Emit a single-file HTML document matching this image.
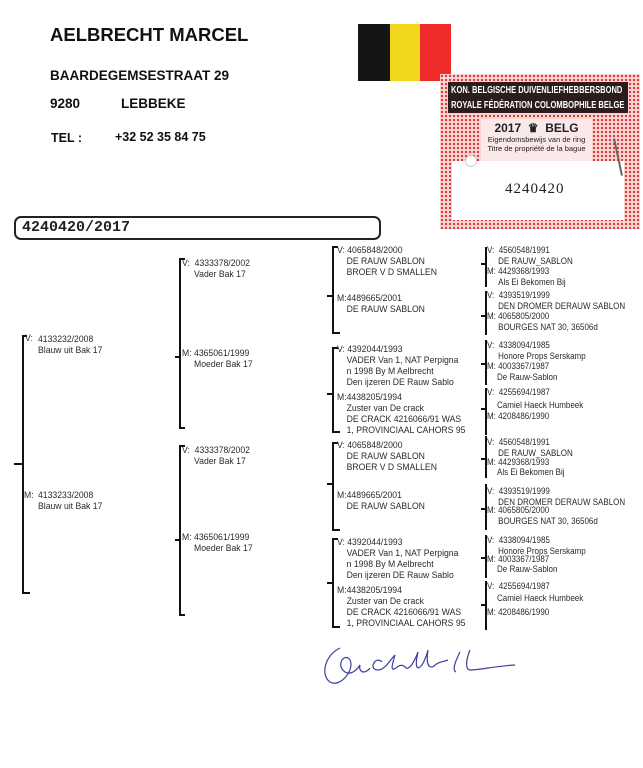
<!DOCTYPE html>
<html><head><meta charset="utf-8"><style>
body{margin:0;background:#fff;width:643px;height:768px;position:relative;overflow:hidden;font-family:"Liberation Sans",Arial,sans-serif;color:#222}
.a{position:absolute;white-space:nowrap}
.t{position:absolute;white-space:nowrap;font-size:9.3px;line-height:11px;color:#2a2a2a;transform:scaleX(.93);transform-origin:left}
.c4 .t{transform:scaleX(.86)}
.v{position:absolute;width:0;border-left:2px solid #111}
.h{position:absolute;height:0;border-top:2px solid #111}
.b{font-weight:bold;color:#111}
</style></head><body>
<div class="a b" style="left:50px;top:24px;font-size:18.5px">AELBRECHT MARCEL</div>
<div class="a b" style="left:50px;top:68px;font-size:13.5px">BAARDEGEMSESTRAAT 29</div>
<div class="a b" style="left:50px;top:96px;font-size:13.5px">9280</div>
<div class="a b" style="left:121px;top:96px;font-size:13.5px">LEBBEKE</div>
<div class="a b" style="left:51px;top:131px;font-size:12.5px">TEL :</div>
<div class="a b" style="left:115px;top:130px;font-size:12.5px;font-weight:bold">+32 52 35 84 75</div>
<div class="a" style="left:358px;top:24px;width:32px;height:57px;background:#151515"></div>
<div class="a" style="left:390px;top:24px;width:30px;height:57px;background:#f2d81c"></div>
<div class="a" style="left:420px;top:24px;width:31px;height:57px;background:#ef2b2b"></div>
<!-- certificate -->
<div class="a" style="left:440px;top:74px;width:200px;height:155px;background-color:#f7d4d4;background-image:radial-gradient(circle,#e23a3a 1.1px,transparent 1.3px);background-size:4px 4px"></div>
<div class="a" style="left:448px;top:82px;width:180px;height:31px;background:#2b1d1d;overflow:hidden"></div>
<div class="a" style="left:451px;top:83px;color:#fff;font-weight:bold;font-size:10.5px;line-height:15px;transform:scaleX(.72);transform-origin:left">KON. BELGISCHE DUIVENLIEFHEBBERSBOND<br>ROYALE FÉDÉRATION COLOMBOPHILE BELGE</div>
<div class="a" style="left:481px;top:119px;width:111px;height:42px;background:#fbe9ea;text-align:center;color:#222">
<div style="font-weight:bold;font-size:12px;margin-top:2px">2017 &nbsp;♛&nbsp; BELG</div>
<div style="font-size:7.5px;line-height:9px">Eigendomsbewijs van de ring<br>Titre de propriété de la bague</div></div>
<div class="a" style="left:452px;top:161px;width:172px;height:59px;background:#fff"></div>
<div class="a" style="left:465px;top:155px;width:10px;height:10px;border-radius:50%;background:#fff;border:1px solid #ccc"></div>
<div class="a" style="left:505px;top:181px;font-family:'Liberation Serif',serif;font-size:15px;letter-spacing:1px;color:#222">4240420</div>
<div class="a" style="left:617px;top:138px;width:2px;height:38px;background:#666;transform:rotate(-12deg)"></div>
<!-- ring bar -->
<div class="a" style="left:14px;top:216px;width:363px;height:20px;border:2px solid #222;border-radius:7px"></div>
<div class="a" style="left:22px;top:219px;font-family:'Liberation Mono',monospace;font-weight:bold;font-size:15px;color:#222">4240420/2017</div>
<!-- col1 -->
<div class="v" style="left:22px;top:335px;height:258px"></div>
<div class="h" style="left:22px;top:335px;width:5px"></div><div class="h" style="left:22px;top:592px;width:8px"></div>
<div class="h" style="left:14px;top:463px;width:8px"></div>
<div class="t" style="left:25px;top:333px">V:</div><div class="t" style="left:38px;top:334px">4133232/2008<br>Blauw uit Bak 17</div>
<div class="t" style="left:24px;top:490px">M:</div><div class="t" style="left:38px;top:490px">4133233/2008<br>Blauw uit Bak 17</div>
<!-- col2 -->
<div class="v" style="left:179px;top:258px;height:170px"></div>
<div class="h" style="left:179px;top:258px;width:6px"></div><div class="h" style="left:179px;top:427px;width:6px"></div>
<div class="h" style="left:175px;top:356px;width:5px"></div>
<div class="t" style="left:182px;top:258px">V:&nbsp;&nbsp;4333378/2002<br>&nbsp;&nbsp;&nbsp;&nbsp;&nbsp;Vader Bak 17</div>
<div class="t" style="left:182px;top:348px">M: 4365061/1999<br>&nbsp;&nbsp;&nbsp;&nbsp;&nbsp;Moeder Bak 17</div>
<div class="v" style="left:179px;top:445px;height:170px"></div>
<div class="h" style="left:179px;top:445px;width:6px"></div><div class="h" style="left:179px;top:614px;width:6px"></div>
<div class="h" style="left:175px;top:539px;width:5px"></div>
<div class="t" style="left:182px;top:445px">V:&nbsp;&nbsp;4333378/2002<br>&nbsp;&nbsp;&nbsp;&nbsp;&nbsp;Vader Bak 17</div>
<div class="t" style="left:182px;top:532px">M: 4365061/1999<br>&nbsp;&nbsp;&nbsp;&nbsp;&nbsp;Moeder Bak 17</div>
<!-- col3 -->
<div class="v" style="left:332px;top:246px;height:87px"></div><div class="h" style="left:332px;top:246px;width:6px"></div><div class="h" style="left:332px;top:332px;width:8px"></div><div class="h" style="left:327px;top:295px;width:5px"></div>
<div class="v" style="left:332px;top:347px;height:85px"></div><div class="h" style="left:332px;top:347px;width:6px"></div><div class="h" style="left:332px;top:431px;width:8px"></div><div class="h" style="left:327px;top:393px;width:5px"></div>
<div class="v" style="left:332px;top:442px;height:88px"></div><div class="h" style="left:332px;top:442px;width:6px"></div><div class="h" style="left:332px;top:529px;width:8px"></div><div class="h" style="left:327px;top:483px;width:5px"></div>
<div class="v" style="left:332px;top:538px;height:89px"></div><div class="h" style="left:332px;top:538px;width:6px"></div><div class="h" style="left:332px;top:626px;width:8px"></div><div class="h" style="left:327px;top:582px;width:5px"></div>
<div class="t" style="left:337px;top:245px">V: 4065848/2000<br>&nbsp;&nbsp;&nbsp;&nbsp;DE RAUW SABLON<br>&nbsp;&nbsp;&nbsp;&nbsp;BROER V D SMALLEN</div>
<div class="t" style="left:337px;top:293px">M:4489665/2001<br>&nbsp;&nbsp;&nbsp;&nbsp;DE RAUW SABLON</div>
<div class="t" style="left:337px;top:344px">V: 4392044/1993<br>&nbsp;&nbsp;&nbsp;&nbsp;VADER Van 1, NAT Perpigna<br>&nbsp;&nbsp;&nbsp;&nbsp;n 1998 By M Aelbrecht<br>&nbsp;&nbsp;&nbsp;&nbsp;Den ijzeren DE Rauw Sablo</div>
<div class="t" style="left:337px;top:392px">M:4438205/1994<br>&nbsp;&nbsp;&nbsp;&nbsp;Zuster van De crack<br>&nbsp;&nbsp;&nbsp;&nbsp;DE CRACK 4216066/91 WAS<br>&nbsp;&nbsp;&nbsp;&nbsp;1, PROVINCIAAL CAHORS 95</div>
<div class="t" style="left:337px;top:440px">V: 4065848/2000<br>&nbsp;&nbsp;&nbsp;&nbsp;DE RAUW SABLON<br>&nbsp;&nbsp;&nbsp;&nbsp;BROER V D SMALLEN</div>
<div class="t" style="left:337px;top:490px">M:4489665/2001<br>&nbsp;&nbsp;&nbsp;&nbsp;DE RAUW SABLON</div>
<div class="t" style="left:337px;top:537px">V: 4392044/1993<br>&nbsp;&nbsp;&nbsp;&nbsp;VADER Van 1, NAT Perpigna<br>&nbsp;&nbsp;&nbsp;&nbsp;n 1998 By M Aelbrecht<br>&nbsp;&nbsp;&nbsp;&nbsp;Den ijzeren DE Rauw Sablo</div>
<div class="t" style="left:337px;top:585px">M:4438205/1994<br>&nbsp;&nbsp;&nbsp;&nbsp;Zuster van De crack<br>&nbsp;&nbsp;&nbsp;&nbsp;DE CRACK 4216066/91 WAS<br>&nbsp;&nbsp;&nbsp;&nbsp;1, PROVINCIAAL CAHORS 95</div>
<!-- col4 -->
<div class="c4">
<div class="v" style="left:485px;top:247px;height:40px"></div><div class="h" style="left:481px;top:263px;width:5px"></div>
<div class="v" style="left:485px;top:291px;height:44px"></div><div class="h" style="left:481px;top:315px;width:5px"></div>
<div class="v" style="left:485px;top:340px;height:45px"></div><div class="h" style="left:481px;top:363px;width:5px"></div>
<div class="v" style="left:485px;top:388px;height:47px"></div><div class="h" style="left:481px;top:408px;width:5px"></div>
<div class="v" style="left:485px;top:436px;height:42px"></div><div class="h" style="left:481px;top:458px;width:5px"></div>
<div class="v" style="left:485px;top:484px;height:46px"></div><div class="h" style="left:481px;top:508px;width:5px"></div>
<div class="v" style="left:485px;top:535px;height:43px"></div><div class="h" style="left:481px;top:557px;width:5px"></div>
<div class="v" style="left:485px;top:581px;height:49px"></div><div class="h" style="left:481px;top:604px;width:5px"></div>
<div class="t" style="left:487px;top:245px">V:&nbsp;&nbsp;4560548/1991<br>&nbsp;&nbsp;&nbsp;&nbsp;&nbsp;DE RAUW_SABLON</div>
<div class="t" style="left:487px;top:266px">M:&nbsp;4429368/1993<br>&nbsp;&nbsp;&nbsp;&nbsp;&nbsp;Als Ei Bekomen Bij</div>
<div class="t" style="left:487px;top:290px">V:&nbsp;&nbsp;4393519/1999<br>&nbsp;&nbsp;&nbsp;&nbsp;&nbsp;DEN DROMER DERAUW SABLON</div>
<div class="t" style="left:487px;top:311px">M:&nbsp;4065805/2000<br>&nbsp;&nbsp;&nbsp;&nbsp;&nbsp;BOURGES NAT 30, 36506d</div>
<div class="t" style="left:487px;top:340px">V:&nbsp;&nbsp;4338094/1985<br>&nbsp;&nbsp;&nbsp;&nbsp;&nbsp;Honore Props Serskamp</div>
<div class="t" style="left:487px;top:361px">M:&nbsp;4003367/1987</div>
<div class="t" style="left:497px;top:372px">De Rauw-Sablon</div>
<div class="t" style="left:487px;top:387px">V:&nbsp;&nbsp;4255694/1987</div>
<div class="t" style="left:497px;top:400px">Camiel Haeck Humbeek</div>
<div class="t" style="left:487px;top:411px">M:&nbsp;4208486/1990</div>
<div class="t" style="left:487px;top:437px">V:&nbsp;&nbsp;4560548/1991<br>&nbsp;&nbsp;&nbsp;&nbsp;&nbsp;DE RAUW_SABLON</div>
<div class="t" style="left:487px;top:457px">M:&nbsp;4429368/1993</div>
<div class="t" style="left:497px;top:467px">Als Ei Bekomen Bij</div>
<div class="t" style="left:487px;top:486px">V:&nbsp;&nbsp;4393519/1999<br>&nbsp;&nbsp;&nbsp;&nbsp;&nbsp;DEN DROMER DERAUW SABLON</div>
<div class="t" style="left:487px;top:505px">M:&nbsp;4065805/2000<br>&nbsp;&nbsp;&nbsp;&nbsp;&nbsp;BOURGES NAT 30, 36506d</div>
<div class="t" style="left:487px;top:535px">V:&nbsp;&nbsp;4338094/1985<br>&nbsp;&nbsp;&nbsp;&nbsp;&nbsp;Honore Props Serskamp</div>
<div class="t" style="left:487px;top:554px">M:&nbsp;4003367/1987</div>
<div class="t" style="left:497px;top:564px">De Rauw-Sablon</div>
<div class="t" style="left:487px;top:581px">V:&nbsp;&nbsp;4255694/1987</div>
<div class="t" style="left:497px;top:593px">Camiel Haeck Humbeek</div>
<div class="t" style="left:487px;top:607px">M:&nbsp;4208486/1990</div>
</div>
<!-- signature -->
<svg class="a" style="left:320px;top:640px" width="210" height="50" viewBox="0 0 210 50" fill="none" stroke="#3b3fa0" stroke-width="1.2">
<path d="M20 8 C5 15 0 35 10 42 C20 48 35 30 30 20 C25 12 15 25 25 32 C32 36 38 28 40 25 C38 32 45 35 50 28"/>
<path d="M62 22 C55 15 48 30 58 30 C65 30 70 20 75 15 C72 25 70 32 76 28 C80 24 84 25 86 28 C90 30 95 20 98 12 C95 25 96 32 102 25 C106 18 108 10 108 10 C106 22 108 30 114 26 C118 22 122 22 128 20"/>
<path d="M140 12 C135 22 132 30 136 32 M150 10 C145 22 146 30 150 30 C160 30 175 26 195 25"/>
</svg>
</body></html>
